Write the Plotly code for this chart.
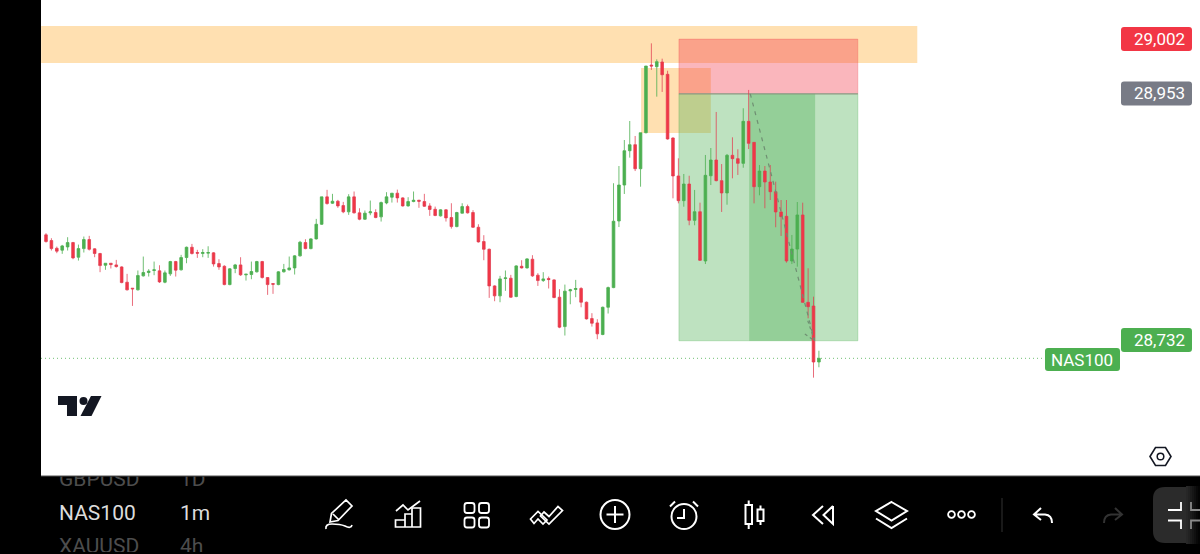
import re
import plotly.graph_objects as go

W, H = 1200, 554

# ---- data ----
opens = [28826.8,28821.7,28814.8,28813.1,28816.0,28819.9,28806.8,28814.5,28822.6,28814.3,28810.1,28799.6,28801.4,28799.9,28798.1,28784.4,
 28779.1,28777.6,28790.1,28793.1,28794.9,28794.6,28784.4,28791.9,28802.9,28795.5,28806.5,28815.7,28811.0,28810.1,28810.4,28810.7,
 28801.1,28798.7,28782.3,28796.7,28799.9,28791.0,28791.3,28793.7,28802.9,28788.6,28783.2,28782.3,28793.7,28795.5,28797.2,28808.0,
 28819.9,28814.5,28823.2,28836.3,28860.8,28855.1,28856.9,28853.0,28847.4,28860.8,28846.5,28840.8,28846.5,28846.8,28842.9,28855.4,
 28860.5,28864.1,28859.9,28852.7,28856.6,28857.8,28856.6,28852.7,28849.7,28843.8,28849.2,28842.3,28834.2,28846.2,28852.1,28846.8,
 28833.6,28820.8,28813.9,28781.1,28772.2,28787.7,28788.0,28771.6,28798.7,28797.2,28805.0,28790.7,28785.9,28787.7,28786.5,28771.0,
 28744.7,28776.7,28777.9,28778.8,28766.5,28751.9,28748.0,28737.6,28762.0,28779.6,28839.2,28871.4,28902.1,28907.5,28886.0,28918.2,
 28978.8,28977.3,28981.5,28970.5,28913.5,28879.5,28857.4,28872.3,28839.8,28847.5,28803.4,28879.7,28893.8,28875.3,28864.3,28898.0,
 28895.0,28890.8,28928.4,28909.6,28869.9,28883.9,28874.1,28865.4,28847.3,28843.4,28803.4,28814.1,28844.6,28766.4,28763.1,28713.0]
closes = [28820.8,28814.5,28812.2,28816.9,28819.9,28806.2,28814.5,28822.6,28813.9,28810.1,28799.3,28801.4,28800.2,28798.4,28784.1,28777.6,
 28778.5,28790.4,28793.1,28794.3,28795.5,28784.7,28792.8,28802.9,28795.2,28806.5,28815.7,28810.1,28810.4,28811.0,28811.0,28800.8,
 28798.1,28782.3,28796.4,28799.9,28791.0,28791.6,28794.0,28802.9,28788.6,28782.3,28782.6,28793.7,28795.8,28797.2,28808.0,28820.2,
 28814.5,28823.2,28836.3,28860.8,28854.8,28856.9,28852.7,28847.4,28860.8,28846.5,28840.8,28846.2,28847.4,28842.3,28855.7,28860.8,
 28864.1,28859.9,28852.7,28856.6,28857.8,28856.9,28852.4,28849.5,28844.1,28849.2,28842.0,28834.2,28846.8,28852.1,28846.5,28833.6,
 28820.5,28813.9,28781.1,28772.2,28787.4,28788.3,28771.0,28799.0,28797.2,28805.3,28790.1,28785.9,28787.4,28786.8,28770.7,28744.2,
 28776.4,28777.6,28778.8,28766.5,28751.6,28747.7,28738.2,28762.0,28779.6,28839.0,28871.4,28902.1,28907.5,28886.0,28918.2,28977.9,
 28977.9,28981.8,28970.1,28912.6,28879.5,28857.4,28872.3,28839.8,28847.5,28804.0,28880.1,28893.8,28875.3,28864.3,28898.0,28895.0,
 28890.8,28928.4,28908.7,28869.9,28883.9,28874.1,28865.4,28847.3,28843.1,28803.4,28814.1,28844.6,28766.4,28762.5,28713.0,28716.3]
highs = [28828.3,28823.8,28816.3,28817.8,28824.7,28820.5,28818.1,28825.3,28825.9,28814.8,28810.7,28801.4,28801.4,28804.4,28798.7,28791.9,
 28779.1,28794.9,28807.4,28796.1,28802.9,28799.6,28794.9,28803.5,28803.5,28808.9,28816.3,28818.7,28813.4,28814.0,28816.6,28811.3,
 28805.0,28799.6,28797.0,28800.8,28806.8,28791.6,28802.9,28803.5,28803.5,28788.9,28783.2,28794.3,28800.8,28807.4,28808.6,28821.4,
 28822.9,28823.8,28841.1,28860.8,28867.1,28863.5,28858.1,28856.3,28863.2,28865.6,28850.6,28848.6,28857.5,28849.7,28856.6,28865.0,
 28864.1,28867.3,28860.5,28860.5,28865.6,28858.1,28863.5,28855.1,28852.1,28849.7,28849.7,28855.1,28847.4,28855.1,28853.9,28848.9,
 28836.3,28826.5,28814.5,28781.7,28790.1,28794.9,28791.0,28799.6,28804.1,28805.9,28808.6,28792.5,28793.4,28789.5,28787.1,28778.2,
 28782.3,28778.5,28786.5,28780.0,28767.1,28756.7,28751.3,28762.6,28780.5,28873.0,28888.4,28911.7,28928.7,28915.3,28918.2,28977.9,
 28998.2,28983.9,28984.5,28973.7,28914.1,28895.3,28881.3,28879.7,28867.0,28855.6,28898.3,28904.5,28936.8,28890.2,28899.2,28914.1,
 28903.4,28940.1,28956.5,28909.9,28889.3,28888.4,28889.3,28874.4,28858.0,28858.0,28826.7,28856.2,28855.6,28796.9,28771.5,28723.1]
lows = [28819.9,28812.8,28810.4,28809.8,28812.8,28805.0,28803.8,28811.0,28812.8,28806.8,28793.4,28795.5,28796.7,28797.5,28783.5,28777.0,
 28763.2,28777.0,28789.5,28789.5,28790.7,28783.8,28783.5,28790.1,28789.5,28794.9,28801.4,28809.2,28806.2,28806.8,28806.2,28798.4,
 28795.5,28781.7,28781.7,28792.5,28790.1,28785.9,28787.1,28793.1,28787.7,28773.1,28774.0,28781.7,28793.1,28794.9,28791.3,28807.4,
 28813.9,28813.9,28822.6,28835.7,28853.9,28854.5,28851.0,28846.2,28844.7,28845.9,28839.9,28840.2,28844.4,28841.7,28838.7,28854.2,
 28855.7,28855.7,28852.1,28852.1,28856.0,28851.0,28851.8,28843.8,28843.5,28843.2,28838.7,28832.4,28833.6,28845.9,28845.9,28833.0,
 28819.9,28804.1,28770.4,28767.4,28766.5,28776.7,28770.4,28771.0,28796.7,28796.7,28789.2,28781.1,28784.7,28778.8,28770.1,28743.3,
 28736.7,28764.7,28771.0,28762.0,28751.0,28744.7,28733.4,28737.0,28756.4,28779.1,28833.8,28863.4,28895.9,28883.9,28869.9,28917.7,
 28974.4,28950.5,28954.7,28912.0,28859.5,28855.0,28852.0,28835.4,28835.4,28803.4,28800.7,28871.4,28874.7,28847.3,28853.8,28877.4,
 28880.4,28886.9,28903.6,28855.0,28862.2,28850.6,28858.0,28833.6,28825.8,28801.9,28800.7,28798.3,28766.1,28752.1,28699.0,28708.3]
bars = list(range(len(opens)))

price_labels = ["29,002", "28,953", "28,732"]
symbol = "NAS100"
rows = [("GBPUSD", "1D"), ("NAS100", "1m"), ("XAUUSD", "4h")]
stop_level, entry_level, target_level = 29002, 28953, 28732
band_top, band_bottom = 29013.7, 28980.6
box_top, box_bottom = 28976.1, 28918.0
trend_x = [130.3, 142.2]
trend_y = [28953, 28732]
head_x = [140.4, 142.2, 140.8]
head_y = [28738, 28732, 28752]

RED, GREEN, GREY = "#F23645", "#4CAF50", "#787B86"

px = lambda x: x / W
py = lambda y: 1 - y / H
def P(d):
    """pixel path -> paper path"""
    toks = re.findall(r"[MLQCZ]|-?[\d.]+", d)
    out, isx = [], True
    for t in toks:
        if t.isalpha():
            out.append(t); isx = True
        else:
            out.append(f"{px(float(t)):.5f}" if isx else f"{py(float(t)):.5f}")
            isx = not isx
    return " ".join(out)

shapes = []
def path(d, line="#ffffff", fill=None, w=2, layer="above"):
    shapes.append(dict(type="path", xref="paper", yref="paper", path=P(d), layer=layer,
                       line=dict(color=line, width=w), fillcolor=fill or "rgba(0,0,0,0)"))
def circ(cx, cy, r, line="#ffffff", fill=None, w=2):
    shapes.append(dict(type="circle", xref="paper", yref="paper", x0=px(cx-r), x1=px(cx+r),
                       y0=py(cy+r), y1=py(cy-r), layer="above",
                       line=dict(color=line, width=w), fillcolor=fill or "rgba(0,0,0,0)"))
def rect(x0, y0, x1, y1, fill, layer="above"):
    shapes.append(dict(type="rect", xref="paper", yref="paper", x0=px(x0), x1=px(x1), y0=py(y1), y1=py(y0),
                       layer=layer, line=dict(width=0), fillcolor=fill))
def rrect(x0, y0, x1, y1, r, **k):
    path(f"M{x0+r} {y0} L{x1-r} {y0} Q{x1} {y0} {x1} {y0+r} L{x1} {y1-r} Q{x1} {y1} {x1-r} {y1} "
         f"L{x0+r} {y1} Q{x0} {y1} {x0} {y1-r} L{x0} {y0+r} Q{x0} {y0} {x0+r} {y0} Z", **k)

# black app chrome behind the chart
rect(0, 0, 41, 476, "#000000", layer="below")
rect(0, 476, 1200, 554, "#000000", layer="below")
rect(41, 475.5, 1200, 476.5, "#555555", layer="below")

# drawings on the chart, in chart coordinates
def zone(x0, x1, y0, y1, fill, border=None):
    shapes.append(dict(type="rect", xref="x", yref="y", x0=x0, x1=x1, y0=y0, y1=y1, layer="below",
                       line=dict(width=1 if border else 0, color=border or fill), fillcolor=fill))
zone(-0.9, 161.2, band_bottom, band_top, "rgba(255,168,38,0.36)")
zone(110.1, 123.0, box_bottom, box_top, "rgba(255,168,38,0.36)")
zone(117.1, 150.2, entry_level, stop_level, "rgba(242,54,69,0.36)", "rgba(242,54,69,0.25)")
zone(117.1, 150.2, target_level, entry_level, "rgba(76,175,80,0.36)", "rgba(76,175,80,0.30)")
zone(130.1, 142.3, target_level, entry_level, "rgba(76,175,80,0.36)")
shapes.append(dict(type="line", xref="x", yref="y", x0=117.1, x1=150.2, y0=entry_level, y1=entry_level,
                   layer="below", line=dict(color="#8f9a8f", width=1)))
shapes.append(dict(type="line", xref="paper", yref="y", x0=px(41), x1=px(1045), y0=closes[-1], y1=closes[-1],
                   layer="below", line=dict(color="rgba(76,175,80,0.8)", width=1, dash="1px,3px")))

# price labels
rrect(1121, 27, 1192, 51, 3, line=RED, fill=RED, w=0)
rrect(1121, 81.5, 1192, 105.5, 3, line=GREY, fill=GREY, w=0)
rrect(1121, 328, 1192, 352, 3, line=GREEN, fill=GREEN, w=0)
rrect(1045, 348, 1120, 371, 3, line=GREEN, fill=GREEN, w=0)

# TradingView mark
path("M58 396 L77 396 L77 416 L67 416 L67 405 L58 405 Z", line="#131722", fill="#131722", w=0)
circ(83.5, 401, 4, line="#131722", fill="#131722", w=0)
path("M91 396 L101.5 396 L91.5 416 L80.5 416 Z", line="#131722", fill="#131722", w=0)

# settings hexagon
path("M1150 456.5 L1155.5 447.5 L1165.5 447.5 L1171 456.5 L1165.5 465.5 L1155.5 465.5 Z", line="#131722", w=1.6)
circ(1160.5, 456.5, 3.3, line="#131722", w=1.5)

# toolbar
# pencil
path("M330 522 L331.5 513.5 L346 500 L352 506 L338 520.5 Z M333 514 L339 520", w=1.7)
path("M326 529 Q325 524 332 524 Q340 524 345 526 Q351 529 352 525", w=1.7)
# indicators
path("M396 511 L403 505 L408 510 L420 501", w=1.7)
path("M395.5 520 L405 520 L405 527 L395.5 527 Z M405 514 L412 514 L412 527 L405 527 Z M412 508 L420.5 508 L420.5 527 L412 527 Z", w=1.7)
# layouts
for gx in (464.5, 479):
    for gy in (503, 517.5):
        rrect(gx, gy, gx + 10, gy + 10, 2.5, w=1.8)
# watchlist chevrons
path("M530.5 519 L538 511.5 L547 520 L543 524 L538 519 L534 523.5 Z", w=1.7)
path("M544 512 L549 516.5 L558 506.5 L562.5 510.5 L549 524 L540.5 516 Z", w=1.7)
# add
circ(615, 514.5, 14.5)
path("M615 506 L615 523 M606.5 514.5 L623.5 514.5", w=2)
# alarm
circ(684, 516.5, 12.5)
path("M684 509 L684 518 L677 518 M670 506.5 L675 501.5 M698 506.5 L693 501.5", w=2)
# candles
path("M745.5 505 L752 505 L752 524 L745.5 524 Z M748.7 500.5 L748.7 505 M748.7 524 L748.7 529", w=2)
path("M757.5 509.5 L763.5 509.5 L763.5 521 L757.5 521 Z M760.5 505.5 L760.5 509.5 M760.5 521 L760.5 525", w=2)
# replay
path("M823 506 L813 515 L823 524 M833 506 L823.5 515 L833 524 L833 506", w=2)
# layers
path("M891.5 502 L907 511 L891.5 520.5 L876 511 Z", w=2)
path("M876 518.5 L891.5 528 L907 518.5", w=2)
# more
for dx in (951.5, 961.5, 971.5):
    circ(dx, 514.5, 3.4, w=1.8)
# divider
rect(1001.5, 498, 1002.5, 532, "#333333")
# undo / redo
path("M1041 508 L1034 514.5 L1041 520 M1034 514.5 L1045 514.5 Q1052 515 1052 523", w=2)
path("M1115 508 L1122 514.5 L1115 520 M1122 514.5 L1111 514.5 Q1104 515 1104 523", line="#333333", w=2)
# collapse button, fading out at the screen edge
rrect(1153, 487, 1212, 543, 12, line="#2b2b2b", fill="#2b2b2b", w=0)
for i, c in enumerate(["#272727", "#222222", "#1c1c1c", "#161616", "#101010", "#090909", "#040404"]):
    rect(1186 + 2 * i, 486, 1188 + 2 * i, 544, c)
rect(1200, 486, 1214, 544, "#000000")
path("M1168 510 L1181 510 L1181 502 M1168 520.5 L1181 520.5 L1181 529", w=1.8)
path("M1191 502 L1191 510 L1200 510 M1191 529 L1191 520.5 L1200 520.5", line="#8a8a8a", w=1.8)

fig = go.Figure()
fig.add_trace(go.Candlestick(
    x=bars, open=opens, high=highs, low=lows, close=closes, showlegend=False, hoverinfo="skip",
    whiskerwidth=0,
    increasing=dict(line=dict(color="rgba(76,175,80,0.8)", width=1), fillcolor=GREEN),
    decreasing=dict(line=dict(color="rgba(226,60,80,0.75)", width=1), fillcolor=RED),
))
fig.add_trace(go.Scatter(x=trend_x, y=trend_y, mode="lines", showlegend=False, hoverinfo="skip",
                         line=dict(color="#6f8f72", width=1.2, dash="4px,5px")))
fig.add_trace(go.Scatter(x=head_x, y=head_y, mode="lines", showlegend=False, hoverinfo="skip",
                         line=dict(color="#6f8f72", width=1.2, dash="3px,3px")))

# symbol picker rows, clipped to the toolbar
row_y = [481, 515, 548]
row_col = ["#4d4d4d", "#dcdcdc", "#4d4d4d"]
fig.add_trace(go.Scatter(x=[59]*3, y=row_y, mode="text", text=[r[0] for r in rows], xaxis="x2", yaxis="y2",
                         textposition="middle right", showlegend=False, hoverinfo="skip", cliponaxis=True,
                         textfont=dict(family="Roboto", size=21, color=row_col)))
fig.add_trace(go.Scatter(x=[180]*3, y=row_y, mode="text", text=[r[1] for r in rows], xaxis="x2", yaxis="y2",
                         textposition="middle right", showlegend=False, hoverinfo="skip", cliponaxis=True,
                         textfont=dict(family="Roboto", size=21, color=row_col)))

anns = []
for txt, ypx in zip(price_labels, (39, 93.5, 340)):
    anns.append(dict(x=px(1159), y=py(ypx), xref="paper", yref="paper", text=txt, showarrow=False,
                     font=dict(family="Roboto", size=17, color="#ffffff"), xanchor="center", yanchor="middle"))
anns.append(dict(x=px(1082), y=py(359.5), xref="paper", yref="paper", text=symbol, showarrow=False,
                 font=dict(family="Roboto", size=17, color="#ffffff"), xanchor="center", yanchor="middle"))

fig.update_layout(
    width=W, height=H, autosize=False, margin=dict(l=0, r=0, t=0, b=0),
    paper_bgcolor="#ffffff", plot_bgcolor="rgba(0,0,0,0)", showlegend=False, dragmode=False,
    xaxis=dict(range=[(0 - 46) / 5.405, (W - 46) / 5.405], domain=[0, 1], visible=False, rangeslider=dict(visible=False), fixedrange=True),
    yaxis=dict(range=[29037 - 0.895 * H, 29037], domain=[0, 1], visible=False, fixedrange=True),
    xaxis2=dict(range=[0, W], domain=[0, 1], visible=False, anchor="y2", fixedrange=True),
    yaxis2=dict(range=[552, 476.5], domain=[py(552), py(476.5)], visible=False, anchor="x2", fixedrange=True),
    shapes=shapes, annotations=anns,
)
fig.write_html("out.html", config=dict(displayModeBar=False),
               post_script="document.body.style.margin='0';document.body.style.overflow='hidden';")
